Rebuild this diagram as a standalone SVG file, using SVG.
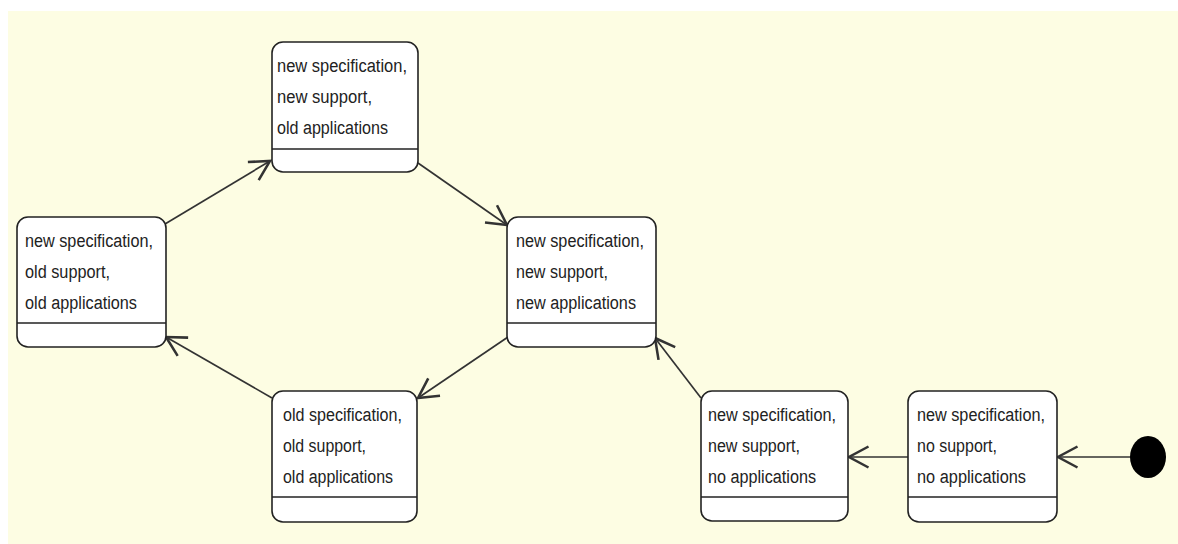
<svg xmlns="http://www.w3.org/2000/svg" width="1178" height="544" viewBox="0 0 1178 544">
<style>
.box{fill:#ffffff;stroke:#222;stroke-width:1.6}
.div{stroke:#222;stroke-width:1.6}
.t{font-family:"Liberation Sans",Arial,sans-serif;font-size:18px;fill:#222}
.c{stroke:#333;stroke-width:1.7;fill:none}
</style>
<defs>
<marker id="open" markerUnits="userSpaceOnUse" markerWidth="30" markerHeight="30" viewBox="-16 -10 20 20" refX="0" refY="0" orient="auto">
<path d="M-13,-7 L0,0 L-13,7" fill="none" stroke="#333" stroke-width="1.7"/>
</marker>
</defs>
<rect x="0" y="0" width="1178" height="544" fill="#ffffff"/>
<rect x="8" y="11" width="1170" height="533" fill="#fdfde3"/>
<g id="connectors">
<line class="c" x1="165" y1="224" x2="270" y2="161" marker-end="url(#open)"/>
<line class="c" x1="418" y1="163" x2="507" y2="225" marker-end="url(#open)"/>
<line class="c" x1="508" y1="337" x2="418" y2="398" marker-end="url(#open)"/>
<line class="c" x1="272" y1="398" x2="166" y2="337" marker-end="url(#open)"/>
<line class="c" x1="701" y1="398" x2="655" y2="338" marker-end="url(#open)"/>
<line class="c" x1="908" y1="457" x2="849" y2="457" marker-end="url(#open)"/>
<line class="c" x1="1130" y1="457" x2="1058" y2="457" marker-end="url(#open)"/>
</g>
<g id="n_top">
<rect class="box" x="272" y="42" width="146" height="130" rx="11"/>
<line class="div" x1="272" y1="149" x2="418" y2="149"/>
<text class="t" x="277" y="72" textLength="130" lengthAdjust="spacingAndGlyphs">new specification,</text>
<text class="t" x="277" y="103" textLength="95" lengthAdjust="spacingAndGlyphs">new support,</text>
<text class="t" x="277" y="134" textLength="111" lengthAdjust="spacingAndGlyphs">old applications</text>
</g>
<g id="n_left">
<rect class="box" x="17" y="217" width="149" height="130" rx="11"/>
<line class="div" x1="17" y1="323" x2="166" y2="323"/>
<text class="t" x="25" y="247" textLength="128" lengthAdjust="spacingAndGlyphs">new specification,</text>
<text class="t" x="25" y="278" textLength="85" lengthAdjust="spacingAndGlyphs">old support,</text>
<text class="t" x="25" y="309" textLength="112" lengthAdjust="spacingAndGlyphs">old applications</text>
</g>
<g id="n_center">
<rect class="box" x="507" y="217" width="149" height="130" rx="11"/>
<line class="div" x1="507" y1="323" x2="656" y2="323"/>
<text class="t" x="516" y="247" textLength="128" lengthAdjust="spacingAndGlyphs">new specification,</text>
<text class="t" x="516" y="278" textLength="92" lengthAdjust="spacingAndGlyphs">new support,</text>
<text class="t" x="516" y="309" textLength="120" lengthAdjust="spacingAndGlyphs">new applications</text>
</g>
<g id="n_bottom">
<rect class="box" x="272" y="391" width="145" height="131" rx="11"/>
<line class="div" x1="272" y1="497" x2="417" y2="497"/>
<text class="t" x="283" y="421" textLength="119" lengthAdjust="spacingAndGlyphs">old specification,</text>
<text class="t" x="283" y="452" textLength="83" lengthAdjust="spacingAndGlyphs">old support,</text>
<text class="t" x="283" y="483" textLength="110" lengthAdjust="spacingAndGlyphs">old applications</text>
</g>
<g id="n_midright">
<rect class="box" x="701" y="391" width="147" height="130" rx="11"/>
<line class="div" x1="701" y1="497" x2="848" y2="497"/>
<text class="t" x="708" y="421" textLength="128" lengthAdjust="spacingAndGlyphs">new specification,</text>
<text class="t" x="708" y="452" textLength="92" lengthAdjust="spacingAndGlyphs">new support,</text>
<text class="t" x="708" y="483" textLength="108" lengthAdjust="spacingAndGlyphs">no applications</text>
</g>
<g id="n_right">
<rect class="box" x="908" y="391" width="149" height="131" rx="11"/>
<line class="div" x1="908" y1="497" x2="1057" y2="497"/>
<text class="t" x="917" y="421" textLength="128" lengthAdjust="spacingAndGlyphs">new specification,</text>
<text class="t" x="917" y="452" textLength="80" lengthAdjust="spacingAndGlyphs">no support,</text>
<text class="t" x="917" y="483" textLength="109" lengthAdjust="spacingAndGlyphs">no applications</text>
</g>
<g id="n_initial">
<ellipse cx="1148" cy="457" rx="18" ry="21" fill="#000"/>
</g>
</svg>
